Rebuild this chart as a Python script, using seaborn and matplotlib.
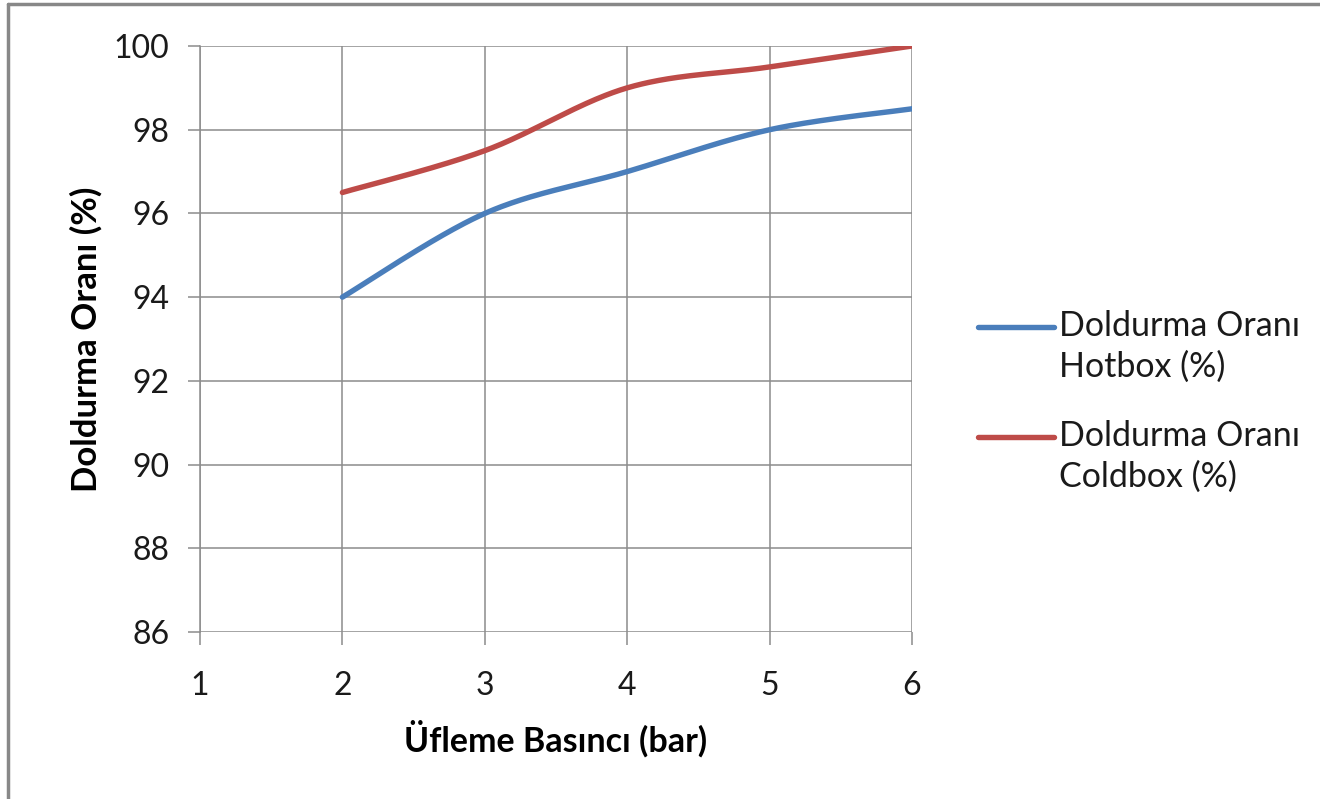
import numpy as np
import pandas as pd
import matplotlib
matplotlib.use("Agg")
import matplotlib.pyplot as plt
import seaborn as sns

# Blowing pressure (bar) and fill ratio (%) for the two core processes
pressure = [2, 3, 4, 5, 6]
hotbox = [94.0, 96.0, 97.0, 98.0, 98.5]
coldbox = [96.5, 97.5, 99.0, 99.5, 100.0]

series_names = ["Doldurma Oranı\nHotbox (%)", "Doldurma Oranı\nColdbox (%)"]
series_colors = ["#4A7EBB", "#BE4B48"]

x_ticks = [1, 2, 3, 4, 5, 6]
y_ticks = [86, 88, 90, 92, 94, 96, 98, 100]


def smooth_curve(xs, ys, steps=60):
    """Cubic Bezier smoothing through every point (spreadsheet-style smoothed line)."""
    xs = np.asarray(xs, float)
    ys = np.asarray(ys, float)
    pts = np.column_stack([xs, ys])
    n = len(pts)
    out = [pts[0]]
    for i in range(n - 1):
        p0 = pts[i - 1] if i > 0 else pts[i]
        p1 = pts[i]
        p2 = pts[i + 1]
        p3 = pts[i + 2] if i + 2 < n else pts[i + 1]
        c1 = p1 + (p2 - p0) / 6.0
        c2 = p2 - (p3 - p1) / 6.0
        t = np.linspace(0, 1, steps)[1:, None]
        seg = ((1 - t) ** 3) * p1 + 3 * ((1 - t) ** 2) * t * c1 + 3 * (1 - t) * t ** 2 * c2 + t ** 3 * p2
        out.extend(seg)
    out = np.array(out)
    return out[:, 0], out[:, 1]


frames = []
for name, vals in zip(series_names, [hotbox, coldbox]):
    sx, sy = smooth_curve(pressure, vals)
    frames.append(pd.DataFrame({"x": sx, "y": sy, "series": name}))
df = pd.concat(frames, ignore_index=True)

sns.set_theme(style="white")
plt.rcParams["font.family"] = ["Lato", "DejaVu Sans"]

fig = plt.figure(figsize=(13.2, 7.99), dpi=100)
ax = fig.add_axes([200 / 1320, 1 - 632 / 799, 712 / 1320, 586 / 799])

sns.lineplot(data=df, x="x", y="y", hue="series", palette=series_colors,
             sort=False, estimator=None, linewidth=3.9, ax=ax, legend=True)
for ln in ax.get_lines():
    ln.set_solid_capstyle("round")

ax.set_xlim(1, 6)
ax.set_ylim(86, 100)
ax.set_xticks(x_ticks)
ax.set_yticks(y_ticks)
ax.grid(True, color="#8C8C8C", linewidth=1.1)
ax.set_axisbelow(True)
for side in ["top", "right", "bottom"]:
    ax.spines[side].set_visible(False)
ax.spines["left"].set_color("#8C8C8C")
ax.spines["left"].set_linewidth(1.1)
ax.tick_params(axis="both", which="major", direction="out", length=9, width=1.1,
               color="#8C8C8C", labelsize=23, labelcolor="#1a1a1a",
               left=True, bottom=True)
ax.tick_params(axis="x", pad=19)
ax.tick_params(axis="y", pad=13)

ax.set_xlabel("Üfleme Basıncı (bar)", fontsize=24.5, fontweight="bold", labelpad=14, color="black")
ax.set_ylabel("Doldurma Oranı (%)", fontsize=25, fontweight="bold", labelpad=8, color="black")

leg_fs = 24.5
leg = ax.legend(loc="upper left", bbox_to_anchor=(978 / 1320, 1 - 310 / 799),
                bbox_transform=fig.transFigure, frameon=False, fontsize=leg_fs,
                handlelength=2.22, handletextpad=0.15, labelspacing=1.1,
                borderpad=0, borderaxespad=0)
for t in leg.get_texts():
    t.set_linespacing(1.32)
    t.set_color("#1a1a1a")
# keep each legend stroke level with the first line of its label
for h in leg.get_lines():
    h.set_linewidth(3.9)
    h.set_solid_capstyle("round")
    h.set_ydata(np.asarray(h.get_ydata(), float) + 14.8)

# outer chart border on the left and top edges
fig.add_artist(plt.Line2D([7.5 / 1320, 7.5 / 1320], [0, 1 - 3.5 / 799],
                          transform=fig.transFigure, color="#888888", linewidth=2.5))
fig.add_artist(plt.Line2D([7.5 / 1320, 1], [1 - 3.5 / 799, 1 - 3.5 / 799],
                          transform=fig.transFigure, color="#888888", linewidth=2.5))

fig.savefig("out.png", dpi=100, facecolor="white")
